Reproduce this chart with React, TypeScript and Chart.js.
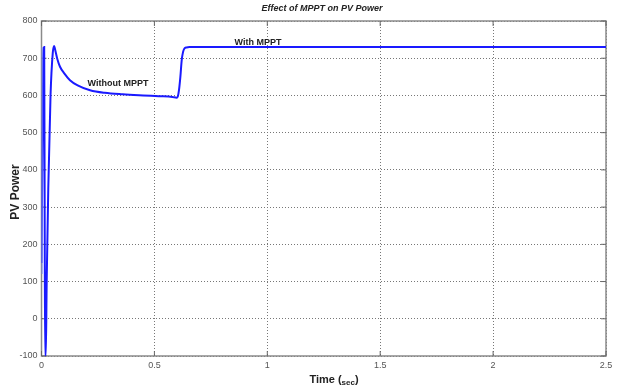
import React, { useEffect, useRef } from "react";
import { Chart, registerables } from "chart.js";

Chart.register(...registerables);

const chartTitle = "Effect of MPPT on PV Power";
const xTitle = "Time";
const xUnit = "sec";
const yTitle = "PV Power";
const withLabel = "With MPPT";
const withoutLabel = "Without MPPT";

const xTicks = [0, 0.5, 1, 1.5, 2, 2.5];
const yTicks = [-100, 0, 100, 200, 300, 400, 500, 600, 700, 800];

const timeSec = [
  0, 0.004, 0.008, 0.012, 0.014, 0.016, 0.019, 0.023, 0.03, 0.04, 0.05, 0.056,
  0.06, 0.07, 0.082, 0.1, 0.126, 0.16, 0.215, 0.28, 0.36, 0.45, 0.52, 0.58,
  0.598, 0.604, 0.609, 0.615, 0.621, 0.627, 0.633, 0.642, 0.655, 0.8, 1.0, 1.5, 2.0, 2.5,
];
const pvPower = [
  150, 450, 700, 730, 300, -100, -100, 100, 350, 600, 715, 733,
  724, 698, 677, 660, 641, 627, 614, 607, 603, 600, 598, 596,
  594, 598, 615, 650, 695, 717, 726, 729, 730, 730, 730, 730, 730, 730,
];
// faint trace at the very start
const traceTime = [0.002, 0.002];
const tracePower = [730, 120];

const FONT = "'Liberation Sans Narrow', 'Liberation Sans', Arial, sans-serif";

export default function App() {
  const ref = useRef<HTMLCanvasElement>(null);

  useEffect(() => {
    if (!ref.current) return;
    const decor = {
      id: "decor",
      beforeDatasetsDraw(chart: any) {
        const { ctx, chartArea: a, scales } = chart;
        ctx.save();
        ctx.strokeStyle = "#8a8a8a";
        ctx.lineWidth = 1.5;
        ctx.setLineDash([]);
        ctx.strokeRect(a.left, a.top, a.right - a.left, a.bottom - a.top);
        ctx.strokeStyle = "#666";
        ctx.lineWidth = 1;
        xTicks.forEach((v) => {
          const x = scales.x.getPixelForValue(v);
          ctx.beginPath();
          ctx.moveTo(x, a.bottom);
          ctx.lineTo(x, a.bottom - 5);
          ctx.moveTo(x, a.top);
          ctx.lineTo(x, a.top + 5);
          ctx.stroke();
        });
        yTicks.forEach((v) => {
          const y = scales.y.getPixelForValue(v);
          ctx.beginPath();
          ctx.moveTo(a.left, y);
          ctx.lineTo(a.left + 5, y);
          ctx.moveTo(a.right, y);
          ctx.lineTo(a.right - 5, y);
          ctx.stroke();
        });
        ctx.restore();
      },
      afterDraw(chart: any) {
        const { ctx } = chart;
        ctx.save();
        ctx.fillStyle = "#222";
        ctx.textBaseline = "middle";
        ctx.textAlign = "center";
        ctx.font = `italic bold 9px ${FONT}`;
        ctx.fillText(chartTitle, 322, 9);
        ctx.font = `bold 9px ${FONT}`;
        ctx.fillText(withLabel, 258, 43);
        ctx.fillText(withoutLabel, 118, 84);
        // x title with subscript unit
        ctx.font = `bold 11px ${FONT}`;
        ctx.textAlign = "left";
        const w1 = ctx.measureText(xTitle + " (").width;
        ctx.font = `bold 8px ${FONT}`;
        const w2 = ctx.measureText(xUnit).width;
        ctx.font = `bold 11px ${FONT}`;
        const w3 = ctx.measureText(")").width;
        const total = w1 + w2 + w3;
        const x0 = 334 - total / 2;
        ctx.fillText(xTitle + " (", x0, 380);
        ctx.font = `bold 8px ${FONT}`;
        ctx.fillText(xUnit, x0 + w1, 383);
        ctx.font = `bold 11px ${FONT}`;
        ctx.fillText(")", x0 + w1 + w2, 380);
        // y title
        ctx.translate(16, 192);
        ctx.rotate(-Math.PI / 2);
        ctx.textAlign = "center";
        ctx.font = `bold 12px ${FONT}`;
        ctx.fillText(yTitle, 0, 0);
        ctx.restore();
      },
    };

    const chart = new Chart(ref.current, {
      type: "scatter",
      data: {
        datasets: [
          {
            data: traceTime.map((t, i) => ({ x: t, y: tracePower[i] })),
            showLine: true,
            borderColor: "rgba(120,140,255,0.6)",
            borderWidth: 2,
            pointRadius: 0,
          },
          {
            data: timeSec.map((t, i) => ({ x: t, y: pvPower[i] })),
            showLine: true,
            borderColor: "#1a1aff",
            borderWidth: 2,
            pointRadius: 0,
            cubicInterpolationMode: "monotone",
          },
        ],
      },
      plugins: [decor],
      options: {
        animation: false,
        responsive: false,
        maintainAspectRatio: false,
        layout: { padding: { top: 21, right: 11, left: 0, bottom: 0 } },
        plugins: { legend: { display: false }, tooltip: { enabled: false } },
        scales: {
          x: {
            type: "linear",
            min: 0,
            max: 2.5,
            afterFit: (s: any) => {
              s.height = 34;
            },
            afterBuildTicks: (s: any) => {
              s.ticks = xTicks.map((v) => ({ value: v }));
            },
            ticks: {
              padding: 4,
              color: "#555",
              font: { family: FONT, size: 9 },
              maxRotation: 0,
              callback: (v: any) => String(v),
            },
            grid: {
              color: "#777",
              lineWidth: 1,
              drawTicks: false,
            },
            border: { display: false, dash: [1, 2] },
          },
          y: {
            type: "linear",
            min: -100,
            max: 800,
            afterFit: (s: any) => {
              s.width = 41.5;
            },
            afterBuildTicks: (s: any) => {
              s.ticks = yTicks.map((v) => ({ value: v }));
            },
            ticks: {
              padding: 4,
              color: "#555",
              font: { family: FONT, size: 9 },
              callback: (v: any) => String(v),
            },
            grid: {
              color: "#777",
              lineWidth: 1,
              drawTicks: false,
            },
            border: { display: false, dash: [1, 2] },
          },
        },
      },
    });
    return () => chart.destroy();
  }, []);

  return (
    <div style={{ position: "absolute", left: 0, top: 0, width: 617, height: 390, background: "#fff" }}>
      <canvas ref={ref} width={617} height={390} style={{ width: 617, height: 390 }} />
    </div>
  );
}
